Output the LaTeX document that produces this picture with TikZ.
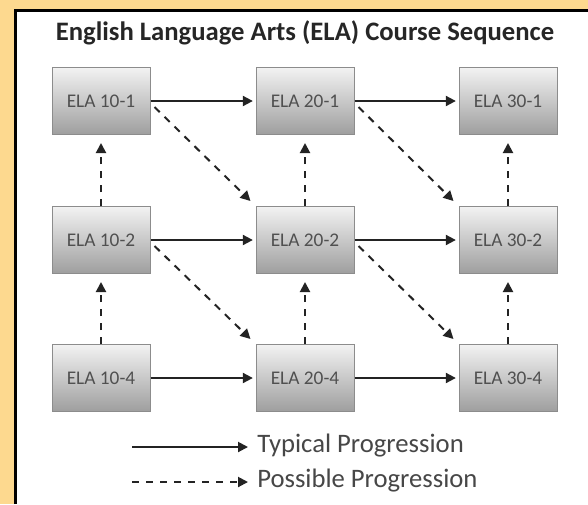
\documentclass[tikz,border=0pt]{standalone}
\usepackage{fontspec}
\setmainfont{Carlito}
\usetikzlibrary{arrows.meta, positioning}
\definecolor{panelorange}{RGB}{253,217,143}
\definecolor{boxline}{RGB}{140,140,140}
\definecolor{boxtext}{RGB}{80,80,80}
\definecolor{arrowgray}{RGB}{35,35,35}
\begin{document}
\begin{tikzpicture}[x=0.75pt,y=0.75pt,yscale=-1,xscale=1,
  course/.style={draw=boxline, line width=0.75pt, top color=white!95!black, bottom color=white!62!black,
    minimum width=73.5pt, minimum height=50.25pt, inner sep=0pt, text=boxtext, font=\fontsize{14.5}{16}\selectfont},
  typical/.style={draw=arrowgray, line width=1.5pt, -{Triangle[length=7.5pt,width=7.5pt]}},
  possible/.style={typical, dash pattern=on 5.5pt off 5pt}]
%set diagram size 588 x 504
\useasboundingbox (0,0) rectangle (588,504);

%Shape: Background
\fill [panelorange] (0,0) rectangle (588,504);
\fill [white] (15,10) rectangle (588,504);
\draw [line width=2.25pt] (15,504) -- (15,10) -- (588,10);

% Text Node
\node (title) at (305,33) [font=\fontsize{20}{22}\selectfont\bfseries, text=black!85] {English Language Arts (ELA) Course Sequence};

%Shape: Boxes
\node (e11) at (101,101) [course] {ELA 10-1};
\node (e21) at (305,101) [course] {ELA 20-1};
\node (e31) at (508,101) [course] {ELA 30-1};
\node (e12) at (101,240) [course] {ELA 10-2};
\node (e22) at (305,240) [course] {ELA 20-2};
\node (e32) at (508,240) [course] {ELA 30-2};
\node (e14) at (101,378) [course] {ELA 10-4};
\node (e24) at (305,378) [course] {ELA 20-4};
\node (e34) at (508,378) [course] {ELA 30-4};

%Straight Lines: typical
\draw [typical, shorten >=2pt] (e11) -- (e21);
\draw [typical, shorten >=2pt] (e21) -- (e31);
\draw [typical, shorten >=2pt] (e12) -- (e22);
\draw [typical, shorten >=2pt] (e22) -- (e32);
\draw [typical, shorten >=2pt] (e14) -- (e24);
\draw [typical, shorten >=2pt] (e24) -- (e34);

%Straight Lines: possible, upwards
\draw [possible, shorten >=6pt] (e12.north) -- (e11.south);
\draw [possible, shorten >=6pt] (e22.north) -- (e21.south);
\draw [possible, shorten >=6pt] (e32.north) -- (e31.south);
\draw [possible, shorten >=6pt] (e14.north) -- (e12.south);
\draw [possible, shorten >=6pt] (e24.north) -- (e22.south);
\draw [possible, shorten >=6pt] (e34.north) -- (e32.south);

%Straight Lines: possible, diagonal
\draw [possible] ([shift={(4,6)}]e11.east) -- ([shift={(-5,-5)}]e22.north west);
\draw [possible] ([shift={(4,6)}]e21.east) -- ([shift={(-5,-5)}]e32.north west);
\draw [possible] ([shift={(4,6)}]e12.east) -- ([shift={(-5,-5)}]e24.north west);
\draw [possible] ([shift={(4,6)}]e22.east) -- ([shift={(-5,-5)}]e34.north west);

% Legend
\coordinate (typA) at (132,447);
\coordinate (posA) at (132,482);
\node (typT) at (256,446) [anchor=west, inner sep=0.75pt, text=black!72, font=\fontsize{20}{22}\selectfont] {Typical Progression};
\node (posT) at (256,481) [anchor=west, inner sep=0.75pt, text=black!72, font=\fontsize{20}{22}\selectfont] {Possible Progression};
\draw [typical, shorten >=6pt] (typA) -- (typA -| typT.west);
\draw [possible, shorten >=6pt] (posA) -- (posA -| posT.west);

\end{tikzpicture}
\end{document}
